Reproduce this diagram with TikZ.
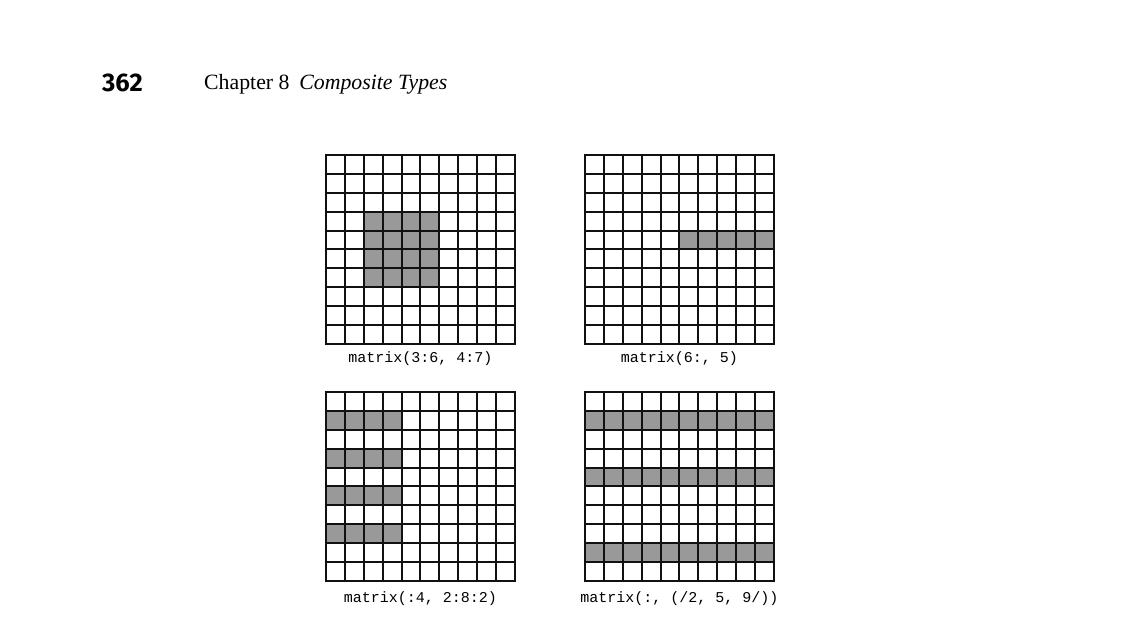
\documentclass[tikz,border=0pt]{standalone}
\usepackage{fontspec}
\setmainfont{Liberation Serif}
\setmonofont{Liberation Mono}
\newfontfamily\numfont{Fira Sans}
\definecolor{shadegray}{HTML}{999999}
\definecolor{linegray}{HTML}{111111}
\tikzset{
  gridline/.style={draw=linegray, line width=1.8pt, line cap=rect},
  shadecell/.style={fill=shadegray},
  caption/.style={anchor=base, inner sep=0pt, font=\fontsize{15}{18}\selectfont\ttfamily},
}
\newcommand\cellgrid[3]{%
  \begin{scope}[shift={(#1,#2)}]
    #3
    \foreach \i in {0,...,10} {
      \pgfmathsetmacro{\p}{round(\i*18.9)}
      \draw[gridline] (\p,0) -- (\p,189);
      \draw[gridline] (0,\p) -- (189,\p);
    }
  \end{scope}}
\newcommand\shaderect[4]{%
  \pgfmathsetmacro{\xa}{round(#1*18.9)}\pgfmathsetmacro{\ya}{round(#2*18.9)}%
  \pgfmathsetmacro{\xb}{round(#3*18.9)}\pgfmathsetmacro{\yb}{round(#4*18.9)}%
  \fill[shadecell] (\xa,\ya) rectangle (\xb,\yb);}
\begin{document}
\begin{tikzpicture}[x=1pt,y=-1pt]
\useasboundingbox (0,0) rectangle (1128,619);
\node[anchor=base west, inner sep=0pt] (pagenum) at (102,91) {\fontsize{25.5}{28}\selectfont\numfont\bfseries 362};
\node[anchor=base west, inner sep=0pt] (header) at (204,89) {\fontsize{21.8}{26}\selectfont Chapter 8\hspace{0.45em}\textit{Composite Types}};
% top-left
\cellgrid{326}{155}{\shaderect{2}{3}{6}{7}}
% top-right
\cellgrid{585}{155}{\shaderect{5}{4}{10}{5}}
% bottom-left
\cellgrid{326}{392}{\shaderect{0}{1}{4}{2}\shaderect{0}{3}{4}{4}\shaderect{0}{5}{4}{6}\shaderect{0}{7}{4}{8}}
% bottom-right
\cellgrid{585}{392}{\shaderect{0}{1}{10}{2}\shaderect{0}{4}{10}{5}\shaderect{0}{8}{10}{9}}
\node[caption] (capA) at (420.5,362.5) {matrix(3:6, 4:7)};
\node[caption] (capB) at (679.5,362.5) {matrix(6:, 5)};
\node[caption] (capC) at (420.5,602.5) {matrix(:4, 2:8:2)};
\node[caption] (capD) at (679.5,602.5) {matrix(:, (/2, 5, 9/))};
\end{tikzpicture}
\end{document}
